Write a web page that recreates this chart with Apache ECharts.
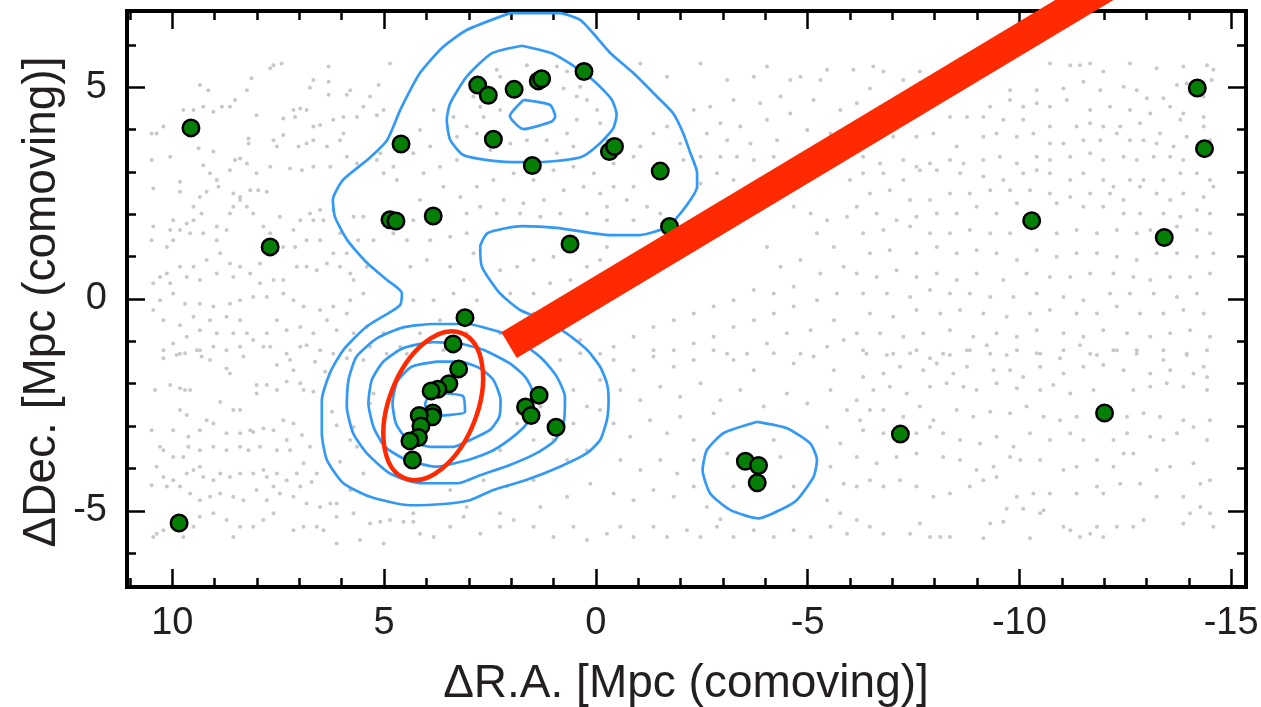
<!DOCTYPE html>
<html>
<head>
<meta charset="utf-8">
<script src="https://cdn.jsdelivr.net/npm/echarts@6/dist/echarts.min.js"></script>
<style>
html,body{margin:0;padding:0;background:#fff;}
#chart{width:1261px;height:707px;}
</style>
</head>
<body>
<div id="chart"></div>
<script>
// Axis extents (comoving Mpc)
const raRange = [-15.35, 11.07];
const decRange = [-6.8, 6.8];

// Field galaxies: [dRA, dDec]
const fieldGalaxies = [
[7.61,5.52],[7.42,5.56],[7.69,5.45],[6.31,5.49],[4.86,5.56],[8.13,5.21],[9.35,5.05],[9.15,4.93],[8.24,4.93],[6.67,5.17],[6.75,4.99],[6.31,5.13],[5.80,4.93],[5.13,5.05],[5.33,4.78],[5.49,4.54],[5.88,4.82],[6.31,4.82],[6.98,4.50],[6.83,4.46],[7.14,4.46],[8.52,4.70],[8.64,4.54],[8.83,4.54],[9.03,4.42],[9.27,4.54],[9.50,4.46],[9.74,4.46],[10.37,3.91],[10.21,4.07],[10.49,3.91],[8.01,4.34],[7.38,4.26],[7.10,4.30],[6.67,4.07],[6.51,4.11],[6.20,4.23],[5.96,4.30],[5.64,4.30],[5.17,4.34],[5.01,4.46],[5.96,3.91],[6.04,3.75],[6.35,3.60],[6.67,3.75],[6.83,3.67],[7.02,3.60],[7.38,3.87],[7.61,3.75],[7.53,3.60],[8.20,3.79],[8.20,3.67],[8.40,3.32],[8.52,3.28],[9.03,3.48],[9.38,3.56],[10.05,3.36],[10.49,3.28],[9.27,3.16],[9.11,2.97],[8.95,2.81],[8.64,3.04],[8.24,3.20],[8.01,2.97],[7.69,3.12],[7.22,3.08],[6.94,3.04],[6.67,3.12],[6.27,3.12],[5.88,3.36],[5.64,3.20],[5.17,3.28],[5.09,3.44],[4.78,3.12],[5.01,2.97],[4.70,2.81],[10.45,2.61],[9.82,2.77],[9.82,2.53],[9.50,2.18],[9.19,2.53],[9.35,2.41],[8.91,2.65],[8.56,2.49],[8.40,2.41],[8.16,2.57],[7.97,2.57],[7.77,2.53],[8.24,2.18],[8.56,2.18],[8.64,2.02],[8.95,1.71],[9.31,2.02],[9.50,1.86],[9.66,1.78],[9.98,1.86],[10.05,1.63],[10.45,1.71],[10.49,1.39],[10.13,1.23],[9.98,1.39],[9.82,1.63],[9.58,1.55],[9.27,1.55],[8.95,1.39],[8.72,1.63],[8.40,2.34],[8.09,2.02],[7.85,1.71],[7.69,1.55],[7.46,1.94],[7.14,1.63],[6.98,1.86],[6.75,2.02],[6.51,2.10],[6.43,1.86],[6.67,1.86],[6.20,2.10],[6.04,1.55],[5.72,1.94],[5.49,1.94],[4.94,2.02],[4.78,1.55],[5.25,1.39],[5.61,1.39],[5.88,1.08],[6.20,1.08],[6.51,1.39],[6.83,1.39],[7.10,1.23],[7.38,1.23],[7.69,1.08],[7.93,0.84],[8.40,0.76],[8.64,0.84],[8.87,1.08],[9.19,0.92],[9.50,0.76],[9.82,0.76],[10.13,0.60],[10.29,0.52],[10.45,0.37],[10.05,0.37],[9.66,0.52],[9.35,0.45],[8.95,0.60],[8.56,0.52],[8.16,0.60],[7.93,0.37],[7.61,0.45],[7.38,0.45],[7.06,0.76],[6.83,0.76],[6.59,0.68],[6.35,0.84],[6.04,0.76],[5.80,0.60],[5.72,0.45],[5.41,0.76],[5.49,0.13],[5.80,-0.03],[5.88,-0.34],[6.20,-0.18],[6.51,-0.26],[6.90,-0.18],[7.14,-0.03],[7.38,0.13],[7.77,0.05],[8.09,0.05],[8.40,-0.03],[8.64,-0.11],[9.03,-0.18],[9.35,-0.11],[9.70,-0.11],[9.98,0.13],[10.29,-0.03],[10.45,-0.26],[10.21,-0.50],[9.82,-0.62],[9.50,-0.42],[9.11,-0.50],[8.72,-0.42],[8.40,-0.50],[8.24,-0.81],[8.56,-0.81],[8.95,-0.81],[9.35,-0.74],[9.66,-0.89],[9.98,-1.05],[10.21,-1.21],[9.82,-1.29],[9.35,-1.21],[9.03,-1.13],[8.72,-1.21],[8.40,-1.13],[8.09,-0.97],[7.77,-0.81],[7.53,-0.50],[7.30,-0.74],[6.98,-0.66],[6.67,-0.81],[6.35,-0.50],[6.12,-0.74],[5.72,-0.81],[5.41,-0.66],[5.01,-0.81],[6.98,-1.13],[7.30,-1.29],[7.69,-1.13],[6.51,-1.21],[6.20,-1.29],[5.80,-1.21],[5.33,-1.13],[4.94,-1.29],[4.62,-1.13],
[10.21,-1.40],[9.90,-1.32],[9.70,-1.28],[9.42,-1.21],[9.31,-1.36],[9.11,-1.44],[8.72,-1.64],[8.64,-1.76],[8.32,-1.36],[7.85,-1.13],[7.53,-1.56],[7.22,-1.44],[7.14,-1.68],[6.83,-1.09],[6.63,-1.48],[6.39,-1.72],[5.88,-1.40],[5.49,-1.44],[10.41,-2.15],[10.05,-2.03],[9.82,-2.11],[9.70,-2.15],[9.58,-2.15],[8.87,-2.43],[8.56,-2.62],[8.40,-2.62],[8.01,-2.03],[8.01,-2.23],[7.77,-2.03],[7.53,-2.15],[7.30,-1.95],[6.98,-1.99],[6.90,-2.15],[6.67,-2.19],[9.19,-2.86],[9.82,-2.62],[9.66,-2.74],[10.49,-3.10],[9.98,-3.10],[9.62,-3.25],[9.35,-3.10],[9.03,-2.94],[8.72,-3.17],[8.40,-3.17],[8.16,-3.10],[8.09,-3.14],[7.85,-3.06],[7.61,-3.10],[7.38,-2.86],[7.14,-2.94],[6.94,-3.21],[10.29,-3.49],[10.21,-3.57],[9.98,-3.73],[9.74,-3.73],[9.62,-3.49],[9.35,-3.57],[9.03,-3.49],[8.72,-3.57],[8.40,-3.49],[8.20,-3.57],[7.93,-3.49],[7.53,-3.57],[7.30,-3.33],[7.22,-3.57],[6.90,-3.88],[6.75,-3.49],[10.37,-3.96],[10.21,-4.20],[9.98,-4.28],[9.66,-4.12],[9.50,-4.04],[9.35,-3.96],[9.27,-4.20],[9.03,-4.28],[8.87,-4.12],[8.64,-4.20],[8.40,-4.12],[8.09,-4.12],[7.85,-4.04],[7.77,-4.20],[7.53,-4.12],[7.30,-4.28],[7.06,-4.12],[6.98,-4.43],[6.71,-4.32],[6.59,-4.12],[10.49,-4.40],[10.13,-4.43],[9.82,-4.43],[9.58,-4.59],[9.35,-4.75],[9.11,-4.67],[8.87,-4.59],[8.56,-4.67],[8.32,-4.75],[8.01,-4.51],[7.77,-4.75],[7.61,-4.43],[7.46,-4.59],[7.14,-4.67],[6.83,-4.83],[6.51,-4.91],[6.27,-4.83],[6.12,-4.83],[5.80,-4.51],[10.45,-5.62],[10.37,-5.54],[10.21,-5.46],[9.74,-5.62],[9.50,-5.38],[9.35,-5.14],[9.03,-5.06],[8.72,-5.22],[8.56,-5.62],[8.40,-5.38],[8.09,-5.38],[7.85,-5.22],[7.61,-5.06],[7.14,-5.46],[6.90,-5.38],[6.59,-5.38],[6.43,-5.46],[6.12,-5.14],[5.72,-5.06],[5.33,-5.30],[5.09,-5.26],[4.86,-5.22],[4.54,-5.26],[4.31,-5.06],[6.12,-5.77],[5.57,-5.69],[5.01,-5.77],[6.23,-2.66],[6.12,-2.98],[5.72,-3.02],[5.80,-3.33],[6.04,-3.84],[5.49,-4.12],[5.64,-3.49],[5.33,-2.47],[5.25,-2.23],
[2.34,5.41],[2.26,5.25],[1.63,5.52],[0.92,5.49],[0.68,5.37],[2.73,4.54],[2.65,4.30],[2.89,4.78],[2.26,4.46],[0.76,4.97],[0.45,4.78],[0.21,4.70],[-0.03,4.46],[-0.10,4.15],[0.45,4.23],[0.68,3.91],[1.16,3.75],[1.63,3.75],[2.02,3.67],[2.49,3.52],[2.81,3.91],[3.05,4.07],[3.28,3.83],[3.36,4.30],[-0.26,3.75],[0.53,3.60],[0.92,3.44],[0.37,5.01],[4.15,3.99],[3.83,4.46],[3.91,3.60],[4.31,3.44],[4.07,2.97],[3.68,3.12],[3.28,3.28],[4.15,2.34],[3.60,2.65],[3.20,2.41],[2.81,2.65],[2.42,2.81],[1.94,2.97],[1.47,2.81],[1.00,3.04],[0.53,3.12],[0.05,2.97],[-0.42,3.20],[-0.89,3.36],[-1.05,3.60],[-1.36,3.91],[-1.68,4.07],[-1.99,3.67],[-2.07,3.28],[-0.89,2.65],[-0.42,2.65],[-0.10,2.49],[0.29,2.65],[0.76,2.57],[1.23,2.34],[1.71,2.26],[2.18,2.34],[2.73,2.18],[3.05,2.02],[3.68,1.94],[4.31,1.86],[4.46,1.39],[3.91,1.39],[3.44,1.47],[3.05,1.55],[2.34,2.02],[1.79,2.02],[1.31,1.94],[0.84,2.02],[0.21,2.02],[-0.26,2.18],[-0.73,2.34],[-1.21,2.18],[-1.52,2.02],[-0.89,1.86],[-0.26,1.86],[4.38,0.76],[3.99,0.92],[3.44,0.76],[3.12,0.45],[2.89,1.08],[3.36,0.13],[3.83,-0.03],[4.31,-0.03],[3.68,-0.50],[4.15,-0.81],[4.46,-1.29],[3.60,-1.21],[2.81,-0.03],[3.05,-0.81],[2.73,-1.29],[2.26,0.68],[1.86,0.76],[1.47,0.92],[1.00,1.00],[2.02,0.13],[1.47,0.13],[1.08,0.37],[1.47,-0.34],[0.60,0.45],[0.21,0.76],[-0.10,0.92],[-0.26,1.23],[0.37,-0.97],[2.26,-0.81],
[-1.05,5.56],[-1.68,5.25],[-2.47,5.56],[-3.10,5.17],[-3.73,5.25],[-4.04,5.49],[-4.59,5.17],[-4.83,5.25],[-5.30,5.17],[-5.46,5.41],[-4.36,4.78],[-3.88,4.62],[-3.25,4.70],[-2.70,4.54],[-2.31,4.46],[-2.94,4.15],[-3.41,4.07],[-4.04,4.23],[-4.59,4.38],[-5.14,4.70],[-5.77,4.46],[-5.54,3.91],[-4.99,3.99],[-4.28,3.75],[-3.65,3.67],[-3.10,3.75],[-2.62,3.91],[-2.47,3.36],[-2.94,3.36],[-3.33,3.36],[-3.73,3.28],[-4.20,3.36],[-2.47,2.73],[-2.86,2.97],[-3.25,2.81],[-5.07,2.02],[-5.46,1.86],[-5.93,1.94],[-4.67,2.18],[-5.22,1.55],[-5.62,1.23],[-4.83,0.92],[-4.36,0.76],[-4.04,1.23],[-5.85,0.76],[-5.30,0.60],[-4.67,0.29],[-4.20,0.13],[-3.73,0.21],[-3.25,-0.03],[-2.78,-0.18],[-2.31,-0.34],[-1.84,-0.50],[-1.36,-0.66],[-0.89,-0.89],[-0.42,-1.13],[-0.10,-1.29],[-3.25,-0.66],[-2.78,-0.89],[-2.31,-1.05],[-1.84,-1.21],[-1.36,-1.21],[-3.73,-0.50],[-4.20,-0.34],[-4.67,-0.18],[-5.22,-0.03],[-5.69,0.13],[-5.62,-0.50],[-5.07,-0.74],[-4.51,-0.81],[-4.04,-1.05],[-3.57,-1.29],[-3.10,-1.29],[-4.83,-1.29],[-5.46,-1.13],[-5.85,-0.97],
[-10.72,5.56],[-11.20,5.52],[-11.43,5.52],[-11.67,5.56],[-11.98,5.37],[-12.61,5.56],[-13.24,5.45],[-13.87,5.49],[-14.43,5.52],[-14.58,5.41],[-14.54,5.17],[-9.78,4.93],[-10.41,4.93],[-11.04,4.97],[-11.51,5.13],[-11.91,4.93],[-12.46,5.01],[-12.77,4.93],[-13.01,4.74],[-13.40,4.74],[-13.72,5.05],[-13.95,5.09],[-14.35,4.78],[-9.31,4.54],[-9.78,4.70],[-10.09,4.54],[-10.41,4.62],[-10.72,4.54],[-11.12,4.70],[-11.67,4.46],[-12.14,4.54],[-12.61,4.46],[-13.09,4.38],[-13.56,4.54],[-13.87,4.38],[-14.35,4.30],[-8.36,4.30],[-8.76,4.30],[-9.15,4.30],[-9.62,4.23],[-10.09,4.23],[-10.72,4.07],[-11.35,4.07],[-11.67,4.15],[-11.98,4.07],[-12.38,4.07],[-12.85,4.15],[-13.32,3.91],[-13.80,4.23],[-14.35,4.07],[-7.02,3.83],[-7.57,3.83],[-7.97,3.91],[-8.52,3.60],[-9.15,3.83],[-9.46,3.91],[-9.94,3.83],[-10.33,3.91],[-10.72,3.67],[-11.04,3.67],[-11.51,3.75],[-11.91,3.75],[-12.30,3.91],[-12.61,3.75],[-12.93,3.75],[-13.24,3.67],[-13.64,3.60],[-13.95,3.83],[-14.50,3.75],[-6.31,3.36],[-6.71,3.20],[-7.26,3.28],[-7.57,3.12],[-7.89,3.20],[-8.36,3.28],[-8.68,3.20],[-9.15,3.28],[-9.54,3.36],[-9.94,3.20],[-10.41,3.36],[-10.72,3.28],[-11.20,3.36],[-11.67,3.44],[-11.98,3.28],[-12.46,3.36],[-12.77,3.28],[-13.17,3.36],[-13.56,3.36],[-13.87,3.28],[-14.50,3.44],[-6.00,2.81],[-6.31,2.97],[-6.79,2.97],[-7.26,2.81],[-7.65,3.04],[-8.05,3.04],[-8.60,2.97],[-9.15,2.89],[-9.62,2.81],[-10.09,2.97],[-10.41,3.04],[-10.72,2.97],[-11.20,2.81],[-11.51,2.97],[-11.98,2.81],[-12.22,2.65],[-12.61,2.81],[-12.93,2.81],[-13.40,2.81],[-13.80,2.97],[-14.19,2.97],[-14.50,2.81],[-6.47,2.49],[-6.94,2.57],[-7.42,2.34],[-7.89,2.34],[-8.36,2.49],[-8.83,2.49],[-9.31,2.57],[-9.78,2.57],[-10.25,2.57],[-10.72,2.49],[-11.20,2.41],[-11.67,2.49],[-12.14,2.49],[-12.46,2.34],[-12.85,2.65],[-13.24,2.49],[-13.56,2.34],[-13.87,2.49],[-14.35,2.41],[-14.58,2.65],[-6.16,2.18],[-6.63,2.02],[-7.10,1.86],[-7.57,1.94],[-8.05,2.02],[-8.52,2.02],[-8.99,2.18],[-9.46,2.02],[-9.94,2.26],[-10.88,2.26],[-11.51,2.18],[-11.98,2.18],[-12.46,2.02],[-12.85,2.02],[-13.40,2.02],[-13.80,1.94],[-14.19,2.10],[-14.50,2.02],[-6.31,1.55],[-6.79,1.63],[-7.42,1.71],[-7.89,1.55],[-8.36,1.55],[-8.83,1.63],[-9.31,1.55],[-9.78,1.55],[-10.88,1.55],[-11.35,1.63],[-11.83,1.55],[-12.30,1.63],[-12.77,1.55],[-13.09,1.63],[-13.72,1.71],[-14.19,1.63],[-14.50,1.55],[-6.47,1.08],[-6.94,1.15],[-7.57,1.08],[-8.05,1.23],[-8.52,1.08],[-8.99,1.15],[-9.46,1.08],[-9.94,0.92],[-10.41,1.15],[-10.88,1.00],[-11.35,1.08],[-11.83,1.08],[-12.30,1.00],[-12.77,0.92],[-13.24,1.08],[-13.72,1.08],[-14.19,1.00],[-14.58,1.08],[-6.16,0.60],[-6.63,0.52],[-7.10,0.68],[-7.57,0.52],[-8.05,0.60],[-8.52,0.45],[-8.99,0.60],[-9.62,0.45],[-10.17,0.60],[-10.72,0.52],[-11.20,0.52],[-11.67,0.60],[-12.22,0.60],[-12.69,0.52],[-13.09,0.45],[-13.56,0.52],[-14.03,0.52],[-14.50,0.60],[-6.31,0.13],[-6.87,0.13],[-7.42,0.05],[-7.89,0.21],[-8.36,0.13],[-8.83,0.13],[-9.31,0.05],[-9.86,0.05],[-10.41,0.13],[-11.04,0.05],[-11.51,-0.03],[-12.14,0.13],[-12.61,0.13],[-13.17,0.13],[-13.72,0.05],[-14.19,0.13],[-6.47,-0.34],[-7.02,-0.42],[-7.57,-0.26],[-8.13,-0.34],[-8.60,-0.26],[-9.15,-0.34],[-9.70,-0.42],[-10.25,-0.34],[-10.72,-0.26],[-11.35,-0.34],[-11.83,-0.34],[-12.30,-0.18],[-12.85,-0.34],[-13.40,-0.34],[-13.87,-0.26],[-14.35,-0.34],[-6.16,-0.81],[-6.71,-0.81],[-7.26,-0.89],[-7.73,-0.81],[-8.36,-0.74],[-8.91,-0.89],[-9.46,-0.81],[-9.94,-0.89],[-10.41,-0.74],[-11.04,-0.81],[-11.51,-0.89],[-11.98,-0.74],[-12.54,-0.81],[-13.09,-0.89],[-13.56,-0.81],[-14.03,-0.74],[-14.50,-0.89],[-6.39,-1.29],[-7.02,-1.29],[-7.57,-1.21],[-8.20,-1.29],[-8.76,-1.21],[-9.31,-1.29],[-9.94,-1.21],[-10.49,-1.29],[-11.04,-1.21],[-11.67,-1.29],[-12.22,-1.21],[-12.77,-1.29],[-13.40,-1.21],[-13.95,-1.29],[-14.43,-1.21],[-6.08,5.41],[-6.55,5.49],[-6.79,5.37],[-6.47,4.97],[-7.26,5.17],[-7.65,5.37],[-6.16,4.62],
[4.31,-5.26],[4.15,-5.54],[3.83,-5.62],[3.44,-5.38],[3.12,-5.14],[2.73,-5.54],[2.26,-5.38],[1.94,-5.22],[1.47,-5.38],[1.00,-5.62],[0.53,-5.38],[0.21,-5.69],[-0.26,-5.54],[-0.58,-5.38],[-0.89,-5.62],[-1.36,-5.38],[-1.68,-5.62],[-2.15,-5.46],[-2.47,-5.62],[-2.86,-5.38],[-3.25,-5.62],[-3.73,-5.46],[-4.20,-5.62],[-4.67,-5.46],[-5.07,-5.62],[-5.54,-5.38],[-5.93,-5.54],[-0.42,-1.44],[-0.89,-1.68],[-1.36,-1.36],[-1.84,-1.60],[-2.31,-1.44],[-2.78,-1.21],[-3.25,-1.44],[-3.73,-1.68],[-4.20,-1.28],[-4.67,-1.52],[-5.14,-1.36],[-5.62,-1.68],[-0.58,-2.15],[-1.05,-2.39],[-1.52,-2.07],[-1.99,-2.31],[-2.47,-1.99],[-2.94,-2.39],[-3.41,-2.15],[-3.96,-2.54],[-4.51,-2.23],[-4.99,-2.47],[-5.54,-2.15],[-5.93,-2.62],[-0.42,-2.94],[-0.81,-3.25],[-1.28,-2.86],[-1.68,-3.17],[-1.99,-2.78],[-2.31,-3.33],[-2.78,-2.70],[-5.46,-3.02],[-5.77,-3.41],[-0.58,-3.80],[-1.05,-4.04],[-1.52,-3.80],[-1.92,-4.12],[-2.31,-3.80],[-5.54,-3.96],[-5.85,-4.36],[-0.42,-4.59],[-0.89,-4.75],[-1.36,-4.51],[-1.84,-4.67],[-2.31,-4.43],[-2.62,-4.91],[-5.46,-4.75],[-5.77,-5.06],[-2.94,-5.20],[-3.10,-3.65],[-4.36,-3.73],[-3.25,-4.43],[-4.67,-4.43],[-4.20,-3.33],[0.84,-1.44],[0.37,-1.28],[-0.10,-1.91],[0.53,-2.15],[0.21,-2.54],[-0.10,-2.62],[0.53,-2.94],[1.00,-3.33],[0.21,-3.57],[0.68,-3.80],[1.47,-3.33],[2.26,-3.57],[1.86,-2.94],[1.31,-2.54],[2.65,-4.28],[3.44,-4.51],[2.10,-4.43],[1.47,-4.28],[3.05,-4.91],[2.26,-5.06],[1.31,-4.91],[0.68,-4.67],[0.13,-4.36],
[-6.31,-1.21],[-6.87,-1.32],[-7.42,-1.28],[-7.89,-1.40],[-8.36,-1.32],[-8.83,-1.21],[-9.23,-1.09],[-9.70,-1.32],[-10.41,-1.28],[-10.96,-1.40],[-11.43,-1.09],[-11.83,-1.32],[-12.30,-1.21],[-12.77,-1.21],[-13.40,-1.44],[-13.95,-1.32],[-14.35,-1.60],[-6.31,-1.84],[-6.79,-1.76],[-7.18,-1.60],[-7.73,-1.68],[-8.05,-1.52],[-8.44,-1.76],[-8.76,-1.60],[-9.39,-1.68],[-9.78,-1.68],[-10.09,-1.84],[-10.49,-1.60],[-11.04,-1.76],[-11.51,-1.60],[-11.98,-1.56],[-12.46,-1.68],[-13.09,-1.76],[-13.56,-1.68],[-14.11,-1.76],[-14.43,-1.84],[-6.16,-2.39],[-6.55,-2.15],[-6.94,-2.07],[-7.34,-2.23],[-7.89,-2.07],[-8.28,-1.99],[-8.68,-2.07],[-8.99,-2.15],[-9.46,-1.99],[-9.94,-2.11],[-10.49,-2.15],[-10.80,-2.03],[-11.20,-2.23],[-11.75,-2.15],[-12.69,-2.15],[-13.09,-2.07],[-13.48,-1.99],[-13.87,-2.07],[-14.43,-2.15],[-6.24,-2.86],[-6.47,-2.62],[-6.79,-2.62],[-7.26,-2.78],[-7.65,-2.54],[-7.97,-2.86],[-8.52,-2.62],[-8.91,-2.78],[-9.31,-2.66],[-9.78,-2.70],[-10.17,-2.54],[-10.57,-2.78],[-10.96,-2.86],[-11.35,-2.78],[-12.54,-2.78],[-12.93,-2.70],[-13.32,-2.78],[-13.87,-2.86],[-14.50,-2.86],[-6.31,-3.10],[-6.79,-3.17],[-7.57,-3.17],[-7.89,-3.02],[-8.20,-3.17],[-8.60,-3.33],[-9.07,-3.41],[-9.46,-3.25],[-9.86,-3.49],[-10.25,-3.17],[-10.72,-3.33],[-11.20,-3.17],[-11.51,-3.33],[-12.22,-3.33],[-12.54,-3.17],[-13.09,-3.25],[-13.40,-3.33],[-13.72,-3.17],[-14.11,-3.02],[-14.43,-3.33],[-6.16,-3.73],[-6.63,-3.88],[-7.10,-3.73],[-7.57,-3.65],[-8.20,-3.73],[-8.60,-3.80],[-8.99,-4.04],[-9.39,-3.96],[-9.78,-3.73],[-10.02,-3.80],[-10.49,-3.80],[-11.04,-4.04],[-11.35,-3.96],[-11.83,-3.80],[-12.22,-3.96],[-12.46,-3.65],[-12.69,-3.65],[-13.24,-4.04],[-13.56,-3.96],[-14.11,-3.88],[-14.50,-4.28],[-6.16,-4.43],[-6.47,-4.28],[-6.79,-4.43],[-7.18,-4.28],[-7.57,-4.43],[-7.97,-4.67],[-8.36,-4.59],[-8.83,-4.43],[-9.15,-4.28],[-9.46,-4.20],[-9.94,-4.67],[-10.33,-4.59],[-10.72,-4.59],[-11.35,-4.59],[-11.83,-4.43],[-11.98,-4.59],[-12.38,-4.36],[-12.85,-4.36],[-13.24,-4.67],[-13.87,-4.67],[-14.27,-4.36],[-6.16,-5.22],[-6.47,-5.38],[-6.79,-5.54],[-7.42,-5.54],[-7.65,-5.30],[-7.89,-5.62],[-8.13,-5.62],[-8.36,-5.62],[-9.15,-5.65],[-9.31,-5.30],[-9.62,-5.26],[-9.70,-4.95],[-10.09,-4.95],[-10.25,-5.65],[-10.49,-5.06],[-10.57,-4.99],[-11.04,-5.38],[-11.20,-5.46],[-11.43,-5.62],[-11.67,-5.54],[-11.83,-5.38],[-11.98,-5.62],[-12.30,-5.38],[-12.69,-5.38],[-12.93,-5.22],[-13.87,-5.30],[-14.03,-5.06],[-14.27,-4.91],[-14.50,-5.06],[-14.58,-5.38]
];

// Protocluster member galaxies: [dRA, dDec]
const memberGalaxies = [
[9.56,4.04],[7.69,1.23],[9.84,-5.29],[4.60,3.66],[4.86,1.87],[4.72,1.84],[3.84,1.96],
[2.79,5.05],[2.54,4.81],[1.93,4.95],[1.36,5.15],[1.28,5.20],[0.28,5.37],[2.42,3.77],[1.50,3.15],[-0.32,3.48],[-0.44,3.60],[-1.52,3.02],[-1.74,1.71],[0.61,1.30],
[3.09,-0.44],[3.37,-1.06],[3.24,-1.65],[3.47,-2.00],[3.73,-2.13],[3.89,-2.17],[3.85,-2.69],[3.86,-2.78],[4.17,-2.75],[4.13,-3.00],[4.19,-3.27],[4.39,-3.35],[4.33,-3.80],
[1.66,-2.55],[1.34,-2.27],[1.53,-2.75],[0.94,-3.03],
[-3.53,-3.83],[-3.84,-3.93],[-3.81,-4.34],
[-7.19,-3.19],[-10.29,1.85],[-13.42,1.45],[-14.20,4.98],[-14.37,3.55],[-12.01,-2.69]
];

// Density contours (closed paths)
const contourOuter = [[2.03,6.75],[3.05,6.35],[3.61,5.95],[4.15,5.34],[4.62,4.46],[4.93,3.75],[5.40,3.28],[5.97,2.81],[6.21,2.34],[6.16,1.94],[5.87,1.39],[5.40,0.85],[4.93,0.45],[4.58,0.14],[4.62,-0.14],[4.86,-0.31],[5.41,-0.65],[5.96,-1.20],[6.28,-1.75],[6.47,-2.39],[6.47,-3.17],[6.35,-3.80],[5.96,-4.35],[5.33,-4.67],[4.39,-4.87],[3.60,-4.84],[2.97,-4.75],[2.42,-4.51],[1.63,-4.27],[0.85,-3.96],[0.21,-3.64],[-0.10,-3.33],[-0.26,-2.86],[-0.30,-2.39],[-0.26,-1.99],[-0.10,-1.60],[0.21,-1.20],[0.69,-0.81],[1.24,-0.50],[1.79,-0.26],[2.10,-0.02],[2.33,0.21],[2.69,0.76],[2.73,1.23],[2.55,1.56],[1.74,1.72],[0.92,1.68],[-0.34,1.51],[-1.04,1.51],[-1.68,1.70],[-2.06,2.10],[-2.39,2.65],[-2.39,2.98],[-2.23,3.45],[-2.06,3.92],[-1.82,4.39],[-1.45,4.77],[-0.88,5.34],[-0.34,5.81],[0.07,6.28],[0.37,6.59],[0.85,6.75],[2.03,6.75]];
const contourNorth = [[1.75,5.98],[2.46,5.80],[3.05,5.25],[3.44,4.62],[3.52,4.23],[3.44,3.76],[3.13,3.40],[2.42,3.26],[1.79,3.23],[1.16,3.24],[0.33,3.36],[-0.10,3.68],[-0.41,4.03],[-0.49,4.35],[-0.38,4.70],[-0.02,5.09],[0.45,5.45],[1.04,5.80],[1.75,5.98]];
const contourNorthPeak = [[1.71,4.70],[1.08,4.58],[0.96,4.31],[1.04,4.19],[1.71,4.01],[2.03,4.32],[1.71,4.70]];
const contourSouth1 = [[2.97,-0.59],[2.18,-0.81],[1.63,-1.13],[1.24,-1.44],[0.92,-1.84],[0.73,-2.31],[0.75,-2.86],[0.96,-3.33],[1.40,-3.64],[2.03,-3.92],[2.73,-4.16],[3.25,-4.35],[4.15,-4.35],[4.86,-4.12],[5.41,-3.64],[5.73,-3.17],[5.88,-2.54],[5.84,-1.91],[5.65,-1.36],[5.17,-0.93],[4.55,-0.67],[3.84,-0.59],[2.97,-0.59]];
const contourSouth2 = [[3.21,-1.05],[2.66,-1.20],[2.03,-1.52],[1.67,-1.84],[1.51,-2.15],[1.51,-2.55],[1.63,-2.94],[1.95,-3.25],[2.42,-3.57],[2.89,-3.76],[3.21,-3.85],[3.76,-3.96],[4.47,-3.80],[4.98,-3.49],[5.25,-3.02],[5.37,-2.46],[5.29,-1.91],[5.02,-1.48],[4.55,-1.16],[3.84,-1.02],[3.21,-1.05]];
const contourSouth3 = [[3.76,-1.48],[3.21,-1.48],[2.73,-1.64],[2.42,-1.91],[2.25,-2.39],[2.28,-2.78],[2.50,-3.09],[2.97,-3.33],[3.36,-3.49],[3.92,-3.49],[4.47,-3.29],[4.72,-2.94],[4.80,-2.46],[4.69,-1.95],[4.35,-1.60],[3.76,-1.48]];
const contourSouthPeak = [[3.92,-2.22],[3.14,-2.29],[3.09,-2.67],[3.51,-2.74],[3.92,-2.76],[4.03,-2.48],[3.92,-2.22]];
const contourEast = [[-3.81,-2.90],[-4.51,-3.05],[-5.06,-3.41],[-5.22,-3.80],[-5.14,-4.20],[-4.74,-4.75],[-4.35,-4.98],[-3.84,-5.18],[-3.17,-4.98],[-2.70,-4.59],[-2.52,-4.04],[-2.62,-3.57],[-3.01,-3.17],[-3.81,-2.90]];
const contours = [contourOuter, contourNorth, contourNorthPeak, contourSouth1, contourSouth2, contourSouth3, contourSouthPeak, contourEast];

// Core ellipse: [centre dRA, centre dDec, semi-major, semi-minor, position angle (deg, data frame)]
const coreEllipse = [3.84, -2.52, 1.84, 1.04, 111.3];

// Direction marker: start and far end
const pointerPath = [[2.05, -1.09], [-12.6, 7.70]];

// Tick labels shown on each axis
const raTickLabels = [10, 5, 0, -5, -10, -15];
const decTickLabels = [5, 0, -5];

const FONT = '"Liberation Sans", Arial, Helvetica, sans-serif';
const INK = '#231f20';
const CONTOUR_BLUE = '#3399f5';
const RED = '#ff2a00';

function labelFormatter(list) {
  return function (v) {
    for (const t of list) { if (Math.abs(v - t) < 1e-6) return String(t); }
    return '';
  };
}

function makeAxis(kind, position, showLabel) {
  const isX = kind === 'x';
  return {
    type: 'value',
    position: position,
    inverse: isX,
    min: isX ? raRange[0] : decRange[0],
    max: isX ? raRange[1] : decRange[1],
    minInterval: 5,
    maxInterval: 5,
    splitNumber: isX ? 5 : 3,
    axisLine: { show: true, onZero: false, lineStyle: { color: '#000', width: 4, cap: 'square' } },
    axisTick: { show: true, inside: true, length: 18, lineStyle: { color: '#000', width: 2.5 } },
    minorTick: { show: true, splitNumber: 5, length: 9, lineStyle: { color: '#000', width: 2.5 } },
    splitLine: { show: false },
    minorSplitLine: { show: false },
    axisLabel: {
      show: showLabel,
      margin: isX ? 18 : 20,
      fontSize: 38,
      fontFamily: FONT,
      color: INK,
      showMinLabel: true,
      showMaxLabel: true,
      hideOverlap: false,
      formatter: labelFormatter(isX ? raTickLabels : decTickLabels)
    }
  };
}

const chart = echarts.init(document.getElementById('chart'), null, { renderer: 'canvas' });

const series = [
  {
    type: 'scatter',
    name: 'field',
    data: fieldGalaxies,
    symbolSize: 4,
    itemStyle: { color: '#c8c8c8', opacity: 1 },
    silent: true,
    z: 1
  }
];

contours.forEach(function (c) {
  series.push({
    type: 'line',
    data: c,
    showSymbol: false,
    symbol: 'none',
    smooth: 0.2,
    lineStyle: { color: CONTOUR_BLUE, width: 2.7, opacity: 1 },
    silent: true,
    z: 2
  });
});

series.push({
  type: 'custom',
  data: [coreEllipse],
  dimensions: ['x', 'y', 'a', 'b', 'pa'],
  encode: { x: 0, y: 1 },
  silent: true,
  z: 3,
  renderItem: function (params, api) {
    const cx = api.value(0), cy = api.value(1);
    const a = api.value(2), b = api.value(3);
    const t = api.value(4) * Math.PI / 180;
    const c = api.coord([cx, cy]);
    const pa = api.coord([cx + a * Math.cos(t), cy + a * Math.sin(t)]);
    const pb = api.coord([cx - b * Math.sin(t), cy + b * Math.cos(t)]);
    const rx = Math.hypot(pa[0] - c[0], pa[1] - c[1]);
    const ry = Math.hypot(pb[0] - c[0], pb[1] - c[1]);
    const rot = Math.atan2(-(pa[1] - c[1]), pa[0] - c[0]);
    return {
      type: 'ellipse',
      x: c[0],
      y: c[1],
      rotation: rot,
      shape: { cx: 0, cy: 0, rx: rx, ry: ry },
      style: { fill: null, stroke: RED, lineWidth: 4.5 }
    };
  }
});

series.push({
  type: 'scatter',
  name: 'members',
  data: memberGalaxies,
  symbol: 'circle',
  symbolSize: 16.5,
  itemStyle: { color: '#067f06', borderColor: '#000', borderWidth: 2.5, opacity: 1 },
  silent: true,
  z: 4
});

series.push({
  type: 'line',
  data: pointerPath,
  showSymbol: false,
  symbol: 'none',
  clip: false,
  lineStyle: { color: RED, width: 30, cap: 'butt', opacity: 1 },
  silent: true,
  z: 5
});

chart.setOption({
  animation: false,
  backgroundColor: '#fff',
  grid: { left: 127, right: 15, top: 11, bottom: 120, containLabel: false, outerBoundsMode: 'none' },
  xAxis: [makeAxis('x', 'bottom', true), makeAxis('x', 'top', false)],
  yAxis: [makeAxis('y', 'left', true), makeAxis('y', 'right', false)],
  series: series,
  graphic: [
    {
      type: 'text',
      x: 686,
      y: 684,
      silent: true,
      style: {
        text: 'ΔR.A. [Mpc (comoving)]',
        font: '46px ' + FONT,
        fill: INK,
        align: 'center',
        verticalAlign: 'middle',
        textAlign: 'center',
        textVerticalAlign: 'middle'
      }
    },
    {
      type: 'text',
      x: 42,
      y: 302,
      rotation: Math.PI / 2,
      silent: true,
      style: {
        text: 'ΔDec. [Mpc (comoving)]',
        font: '46px ' + FONT,
        fill: INK,
        align: 'center',
        verticalAlign: 'middle',
        textAlign: 'center',
        textVerticalAlign: 'middle'
      }
    }
  ]
});
</script>
</body>
</html>
